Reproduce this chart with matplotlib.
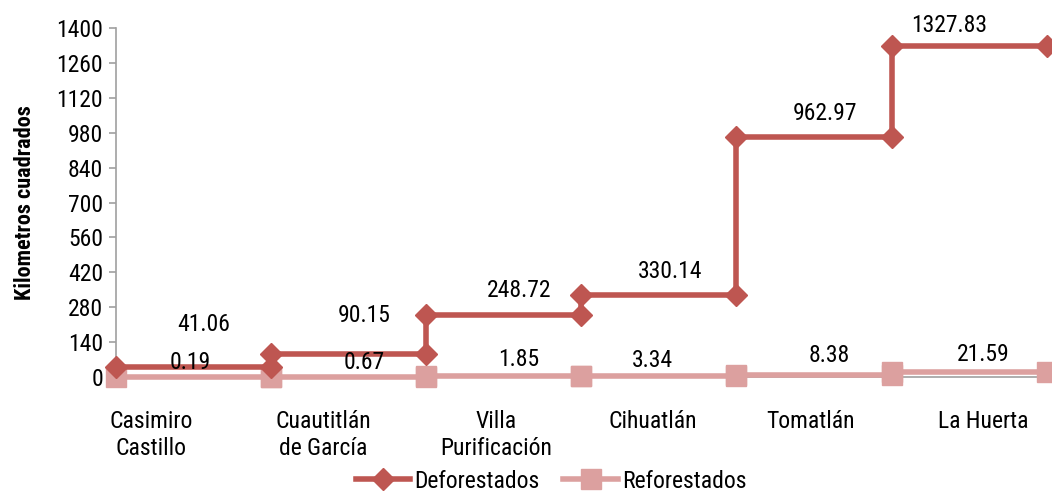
import numpy as np
import matplotlib
matplotlib.use("Agg")
import matplotlib.pyplot as plt
from matplotlib import font_manager

fonts = font_manager.fontManager.ttflist
names = {f.name for f in fonts}
fam = None
for cand in ['Roboto Condensed', 'Liberation Sans Narrow', 'Open Sans Condensed', 'Noto Sans Condensed']:
    if cand in names:
        fam = cand
        break
stretch = 'normal'
if fam is None:
    cond = [f for f in fonts if f.stretch in ('condensed', 'semi-condensed', 75, 87.5)]
    if cond:
        fam = cond[0].name
        stretch = cond[0].stretch
    else:
        fam = 'Roboto'
plt.rcParams['font.family'] = [fam, 'DejaVu Sans']
plt.rcParams['font.stretch'] = stretch

municipios = ['Casimiro\nCastillo', 'Cuautitlán\nde García', 'Villa\nPurificación',
              'Cihuatlán', 'Tomatlán', 'La Huerta']
deforestados = [41.06, 90.15, 248.72, 330.14, 962.97, 1327.83]
reforestados = [0.19, 0.67, 1.85, 3.34, 8.38, 21.59]
yticks = [0, 140, 280, 420, 560, 700, 840, 980, 1120, 1260, 1400]

# label placement (data x, pixel offset above the line)
lab_x = [0.23, 1.34, 2.45, 3.46, 4.48, 5.59]
def_lx = [0.57, 1.6, 2.6, 3.57, 4.57, 5.37]
def_dy = [42, 39, 24, 23, 24, 21]
ref_lx = [0.48, 1.6, 2.6, 3.46, 4.6, 5.59]
ref_dy = [14, 14, 17, 16, 19, 17]

c_def = '#BE5651'
c_ref = '#DCA09F'
fs = 17

fig = plt.figure(figsize=(10.52, 4.94), dpi=100)
ax = fig.add_axes([0.110, 0.237, 0.885, 0.706])

xs = np.repeat(np.arange(len(deforestados) + 1), 2)[1:-1]
ax.plot(xs, np.repeat(reforestados, 2), color=c_ref, lw=4, marker='s', ms=15,
        clip_on=False, zorder=3, label='Reforestados')
ax.plot(xs, np.repeat(deforestados, 2), color=c_def, lw=4, marker='D', ms=11,
        clip_on=False, zorder=4, label='Deforestados')

for i, v in enumerate(deforestados):
    ax.annotate(f'{v:.2f}', (def_lx[i], v), xytext=(0, def_dy[i] * 0.72),
                textcoords='offset points', ha='center', va='center', fontsize=fs)
for i, v in enumerate(reforestados):
    ax.annotate(f'{v:.2f}', (ref_lx[i], v), xytext=(0, ref_dy[i] * 0.72),
                textcoords='offset points', ha='center', va='center', fontsize=fs, zorder=5)

ax.set_xlim(0, 6)
ax.set_ylim(0, 1400)
ax.set_yticks(yticks)
ax.tick_params(axis='y', labelsize=fs, length=5, color='#A0A0A0', width=1.2, pad=4)
ax.set_xticks(lab_x)
ax.set_xticklabels(municipios, fontsize=fs, linespacing=1.2)
ax.tick_params(axis='x', length=0, pad=24)
for s in ['top', 'right']:
    ax.spines[s].set_visible(False)
for s in ['left', 'bottom']:
    ax.spines[s].set_color('#A0A0A0')
    ax.spines[s].set_linewidth(1.2)
ax.set_ylabel('Kilometros cuadrados', fontsize=16, fontweight='bold', labelpad=15)

h, l = ax.get_legend_handles_labels()
fig.legend(h[::-1], l[::-1], loc='center', bbox_to_anchor=(0.524, 0.026), ncol=2,
           frameon=False, fontsize=fs, handlelength=2.3, columnspacing=1.0, handletextpad=0.2)

fig.savefig('out.png', dpi=100)
